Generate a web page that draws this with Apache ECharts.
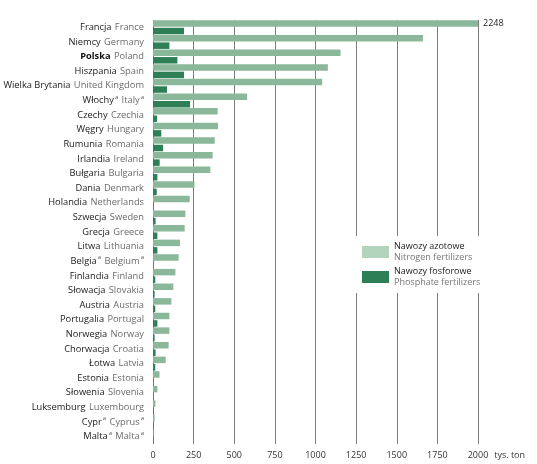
<!DOCTYPE html>
<html><head><meta charset="utf-8">
<script src="https://cdn.jsdelivr.net/npm/echarts@6/dist/echarts.min.js"></script>
<style>html,body{margin:0;padding:0;background:#fff}#c{width:537px;height:464px}</style>
</head><body><div id="c"></div>
<script>
const namesPl = ['Francja','Niemcy','Polska','Hiszpania','Wielka Brytania','Włochy','Czechy','Węgry','Rumunia','Irlandia','Bułgaria','Dania','Holandia','Szwecja','Grecja','Litwa','Belgia','Finlandia','Słowacja','Austria','Portugalia','Norwegia','Chorwacja','Łotwa','Estonia','Słowenia','Luksemburg','Cypr','Malta'];
const namesEn = ['France','Germany','Poland','Spain','United Kingdom','Italy','Czechia','Hungary','Romania','Ireland','Bulgaria','Denmark','Netherlands','Sweden','Greece','Lithuania','Belgium','Finland','Slovakia','Austria','Portugal','Norway','Croatia','Latvia','Estonia','Slovenia','Luxembourg','Cyprus','Malta'];
const footnoted = ['Włochy','Belgia','Cypr','Malta'];
const highlighted = ['Polska'];
const nitrogen = [2248,1661,1154,1076,1041,579,398,400,380,367,353,255,226,199,195,166,158,138,125,113,101,101,96,78,40,27,15,10,3];
const phosphate = [191,101,150,191,86,228,25,51,62,41,27,23,3,16,27,27,3,14,10,14,27,10,16,14,3,3,3,3,3];
const seriesPl = ['Nawozy azotowe','Nawozy fosforowe'];
const seriesEn = ['Nitrogen fertilizers','Phosphate fertilizers'];
const unit = 'tys. ton';

const FONT = 'Open Sans';
const chart = echarts.init(document.getElementById('c'));
chart.setOption({
  animation: false,
  textStyle: {fontFamily: FONT},
  grid: {left: 153, right: 59, top: 20, bottom: 20, containLabel: false},
  xAxis: {
    type: 'value', min: 0, max: 2000, interval: 250,
    axisLine: {show: false}, axisTick: {show: false},
    axisLabel: {fontSize: 9, color: '#333', margin: 7, fontFamily: FONT, formatter: function (v) { return String(v); }},
    splitLine: {show: true, lineStyle: {color: '#7d7d7d', width: 1}},
    name: unit, nameLocation: 'end', nameGap: 4,
    nameTextStyle: {fontSize: 9, color: '#333', align: 'left', verticalAlign: 'top', padding: [7, 0, 0, 0], fontFamily: FONT}
  },
  yAxis: {
    type: 'category', data: namesPl, inverse: true,
    axisLine: {show: false}, axisTick: {show: false}, splitLine: {show: false},
    axisLabel: {
      margin: 9, fontSize: 9, color: '#1a1a1a', fontFamily: FONT,
      formatter: function (v, i) {
        const sup = footnoted.indexOf(v) >= 0 ? '{s|a}' : '';
        const pl = highlighted.indexOf(v) >= 0 ? '{b|' + v + '}' : '{p|' + v + '}';
        return pl + sup + ' {e|' + namesEn[i] + '}' + sup;
      },
      rich: {
        p: {fontSize: 9.3, color: '#1a1a1a', fontFamily: FONT},
        b: {fontSize: 9.3, color: '#111', fontWeight: 'bold', fontFamily: FONT},
        e: {fontSize: 9.3, color: '#6b6b6b', fontFamily: FONT, padding: [0, 0, 0, 1]},
        s: {fontSize: 6, color: '#555', padding: [0, 0, 7, 1], fontFamily: FONT}
      }
    }
  },
  legend: {
    orient: 'vertical', left: 354, top: 236,
    backgroundColor: '#fff', padding: [6, 10, 6, 8], itemGap: 5,
    itemWidth: 27, itemHeight: 12,
    data: [
      {name: seriesPl[0], icon: 'rect', itemStyle: {color: '#b2d3bc'}},
      {name: seriesPl[1], icon: 'rect', itemStyle: {color: '#2f7f56'}}
    ],
    formatter: function (n) {
      const i = seriesPl.indexOf(n);
      return '{a|' + n + '}\n{b|' + seriesEn[i] + '}';
    },
    textStyle: {
      rich: {
        a: {fontSize: 9, color: '#1a1a1a', lineHeight: 11, fontFamily: FONT},
        b: {fontSize: 9, color: '#777', lineHeight: 11, fontFamily: FONT}
      }
    }
  },
  series: [
    {
      name: seriesPl[0], type: 'bar', data: nitrogen.map(function (v, i) {
        return i === 0 ? {value: v, label: {show: true, position: 'right', distance: 5, fontSize: 9, color: '#222', fontFamily: FONT}} : v;
      }),
      barWidth: 6.5, barGap: '15%', clip: true,
      itemStyle: {color: '#8bb89a'}
    },
    {
      name: seriesPl[1], type: 'bar', data: phosphate,
      barWidth: 6.5, barGap: '15%', clip: true,
      itemStyle: {color: '#2f7f56'}
    }
  ]
});
</script></body></html>
